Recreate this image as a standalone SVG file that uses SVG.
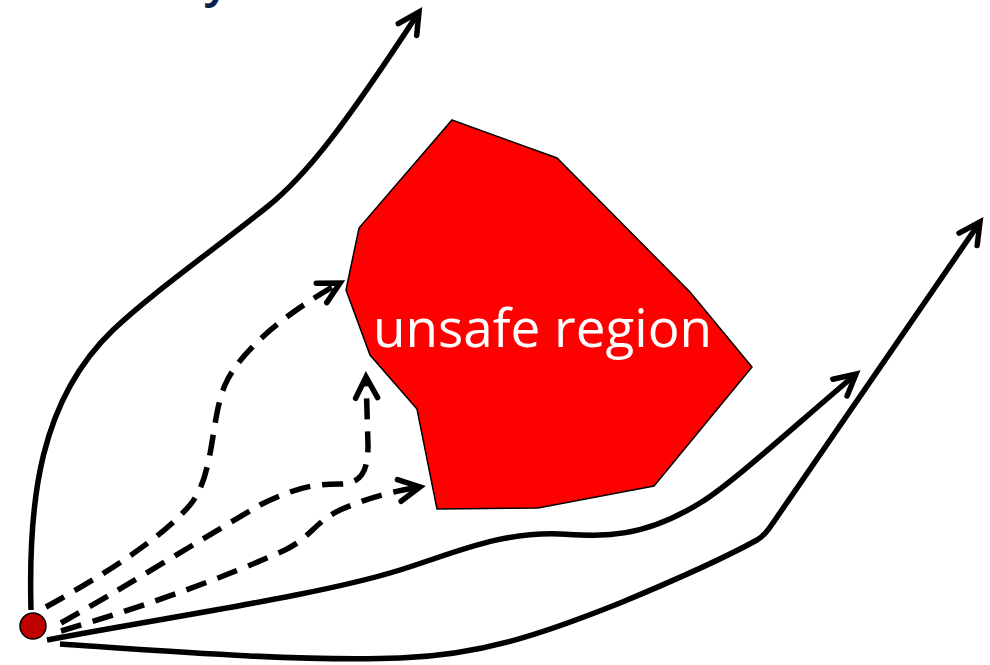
<svg xmlns="http://www.w3.org/2000/svg" width="990" height="665" viewBox="0 0 990 665">
  <style>
    .solid { fill: none; stroke: #000; stroke-width: 5.5; stroke-linecap: butt; stroke-linejoin: round; }
    .dash { fill: none; stroke: #000; stroke-width: 5.5; stroke-dasharray: 21 12; stroke-linecap: butt; }
    .label { font-family: "Open Sans", "Noto Sans", sans-serif; fill: #fff; font-size: 53px; }
    .title { font-family: "Open Sans", "Noto Sans", sans-serif; fill: #0e2151; font-size: 48px; font-weight: 600; }
  </style>
  <defs>
    <marker id="arrow" markerUnits="userSpaceOnUse" orient="auto" overflow="visible" markerWidth="1" markerHeight="1" refX="0" refY="0">
      <path d="M-21,-11 L0,0 L-21,11" fill="none" stroke="#000" stroke-width="5.5" stroke-linecap="round" stroke-linejoin="miter" stroke-dasharray="none"/>
    </marker>
  </defs>
  <rect width="990" height="665" fill="#fff"/>
  <text class="title" x="204" y="-4">y</text>

  <g id="unsafe-region">
    <polygon points="452,120 557,158 690,292 752,367 654,486 538,508 437,509 417,409 370,355 346,290 359,228" fill="#ff0000" stroke="#000" stroke-width="1.5"/>
    <text class="label" x="373" y="347">unsafe region</text>
  </g>

  <g id="connectors">
    <path class="solid" marker-end="url(#arrow)" d="M31,610 C28,500 40,400 113,330 C150,295 200,260 267,207 C307,175 345,125 419,12"/>
    <path class="solid" marker-end="url(#arrow)" d="M47,640 C180,615 320,595 400,570 C460,551 500,532 560,534 C600,536 640,540 700,503 C730,485 790,430 856,374"/>
    <path class="solid" marker-end="url(#arrow)" d="M60,644 C150,650 300,662 400,658 C480,655 540,635 620,603 C680,578 730,555 757,540 C765,535 768,530 775,520 L980,222"/>
    <path class="dash" marker-end="url(#arrow)" d="M46,607 C100,577 160,540 190,505 C215,475 210,420 225,385 C240,350 290,310 340,283"/>
    <path class="dash" marker-end="url(#arrow)" d="M61,623 C120,590 200,540 260,505 C300,485 320,484 340,484 C362,484 368,470 368,445 L366,377"/>
    <path class="dash" marker-end="url(#arrow)" d="M61,631 C150,605 230,575 285,550 C310,538 315,522 340,510 C370,497 390,492 420,487"/>
  </g>

  <g id="start">
    <circle cx="33" cy="626" r="13" fill="#c00000" stroke="#000" stroke-width="1.5"/>
  </g>
</svg>
